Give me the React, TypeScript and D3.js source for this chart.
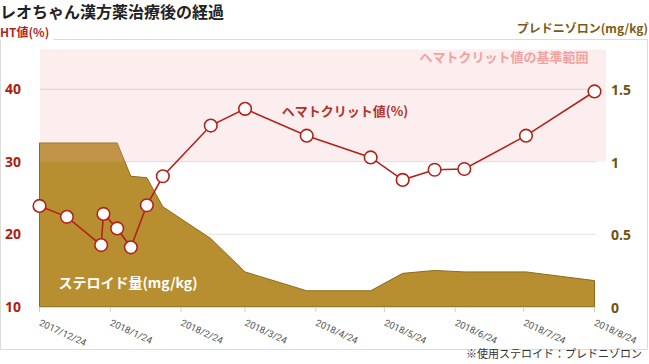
import React from 'react';
import * as d3 from 'd3';

// ヘマトクリット値 (%)
const htDates = [
  '2017/12/24', '2018/1/5', '2018/1/20', '2018/1/21', '2018/1/27', '2018/2/2',
  '2018/2/9', '2018/2/16', '2018/3/9', '2018/3/24', '2018/4/20', '2018/5/18',
  '2018/6/1', '2018/6/15', '2018/6/28', '2018/7/25', '2018/8/24',
];
const htValues = [23.9, 22.4, 18.5, 22.8, 20.8, 18.2, 24.0, 28.0, 35.0, 37.3, 33.6, 30.6, 27.5, 28.9, 29.0, 33.6, 39.7];

// ステロイド量 (mg/kg)
const steroidDates = [
  '2017/12/24', '2018/1/27', '2018/2/2', '2018/2/9', '2018/2/16', '2018/3/9',
  '2018/3/24', '2018/4/20', '2018/5/18', '2018/6/1', '2018/6/15', '2018/6/28',
  '2018/7/25', '2018/8/24',
];
const steroidValues = [1.13, 1.13, 0.9, 0.89, 0.69, 0.47, 0.24, 0.11, 0.11, 0.23, 0.25, 0.24, 0.24, 0.18];

const xTicks = [
  '2017/12/24', '2018/1/24', '2018/2/24', '2018/3/24', '2018/4/24',
  '2018/5/24', '2018/6/24', '2018/7/24', '2018/8/24',
];
const leftTicks = [10, 20, 30, 40];
const rightTicks = [0, 0.5, 1, 1.5];
const normalRange = [30, 45.5];

const parse = d3.timeParse('%Y/%m/%d');
const JP = '"Noto Sans CJK JP", "Noto Sans", sans-serif';

export default function App() {
  const width = 649;
  const height = 364;
  const x = d3
    .scaleTime()
    .domain([parse(xTicks[0]) as Date, parse(xTicks[xTicks.length - 1]) as Date])
    .range([39.5, 594.5]);
  const yL = d3.scaleLinear().domain([10, 40]).range([306.7, 89.3]);
  const yR = d3.scaleLinear().domain([0, 1.5]).range([306.7, 89.3]);

  const ht = htDates.map((d, i) => ({ date: parse(d) as Date, v: htValues[i] }));
  const st = steroidDates.map((d, i) => ({ date: parse(d) as Date, v: steroidValues[i] }));

  const area = d3
    .area<any>()
    .x((d) => x(d.date))
    .y0(yR(0))
    .y1((d) => yR(d.v));
  const line = d3
    .line<any>()
    .x((d) => x(d.date))
    .y((d) => yL(d.v));

  const gridLeft = 40;
  const gridRight = 596;

  return (
    <svg
      width={width}
      height={height}
      style={{ position: 'absolute', left: 0, top: 0, display: 'block', background: '#fff' }}
      fontFamily={JP}
    >
      {/* frame */}
      <path d="M53,39.5 H647.5 V349.5 H0.5 V39.5" fill="none" stroke="#dcdcdc" />

      {/* titles */}
      <text x={0} y={18} fontSize={16} fontWeight="bold" fill="#222">レオちゃん漢方薬治療後の経過</text>
      <text x={0} y={37} fontSize={12} fontWeight="bold" fill="#b3261e">HT値(%)</text>
      <text x={648} y={33} fontSize={12} fontWeight="bold" fill="#7a5a14" textAnchor="end">プレドニゾロン(mg/kg)</text>

      {/* grid */}
      {leftTicks.slice(1).map((t) => (
        <line key={t} x1={gridLeft} x2={gridRight} y1={yL(t)} y2={yL(t)} stroke="#e2e2e2" strokeWidth={1.2} />
      ))}

      {/* steroid area */}
      <path d={area(st) as string} fill="#b78f31" stroke="#8c6c1c" strokeWidth={1} />

      {/* normal range band */}
      <rect
        x={40}
        y={yL(normalRange[1])}
        width={566}
        height={yL(normalRange[0]) - yL(normalRange[1])}
        fill="rgb(240,170,170)"
        fillOpacity={0.2}
      />
      <text x={504} y={62} fontSize={13} fontWeight="bold" fill="#f1a3a0" textAnchor="middle">ヘマトクリット値の基準範囲</text>

      {/* x axis */}
      <line x1={gridLeft} x2={gridRight} y1={307.5} y2={307.5} stroke="#dcdcdc" />
      {xTicks.map((t) => {
        const px = x(parse(t) as Date);
        return (
          <g key={t}>
            <line x1={px} x2={px} y1={307} y2={312} stroke="#cfcfcf" />
            <text
              transform={`translate(${px - 1},${325}) rotate(25)`}
              fontSize={9.5}
              fill="#555"
              fontFamily="Roboto, sans-serif"
            >
              {t}
            </text>
          </g>
        );
      })}

      {/* left axis labels */}
      {leftTicks.map((t) => (
        <text key={t} x={5} y={yL(t) + 5} fontSize={14} fontWeight="bold" fill="#b01c10" fontFamily="'Open Sans', sans-serif">
          {t}
        </text>
      ))}
      {/* right axis labels */}
      {rightTicks.map((t) => (
        <text key={t} x={611} y={yR(t) + 6} fontSize={14} fontWeight="bold" fill="#6f5510" fontFamily="'Open Sans', sans-serif">
          {t}
        </text>
      ))}

      {/* HT line */}
      <path d={line(ht) as string} fill="none" stroke="#b3221a" strokeWidth={1.6} />
      {ht.map((d, i) => (
        <circle key={i} cx={x(d.date)} cy={yL(d.v)} r={6.3} fill="#fff" stroke="#b3221a" strokeWidth={1.6} />
      ))}

      <text x={345} y={116} fontSize={13} fontWeight="bold" fill="#b0342a" textAnchor="middle">ヘマトクリット値(%)</text>
      <text x={128} y={288} fontSize={14} fontWeight="bold" fill="#fff" textAnchor="middle">ステロイド量(mg/kg)</text>

      <text x={642} y={358} fontSize={11} fill="#333" textAnchor="end">※使用ステロイド：プレドニゾロン</text>
    </svg>
  );
}
